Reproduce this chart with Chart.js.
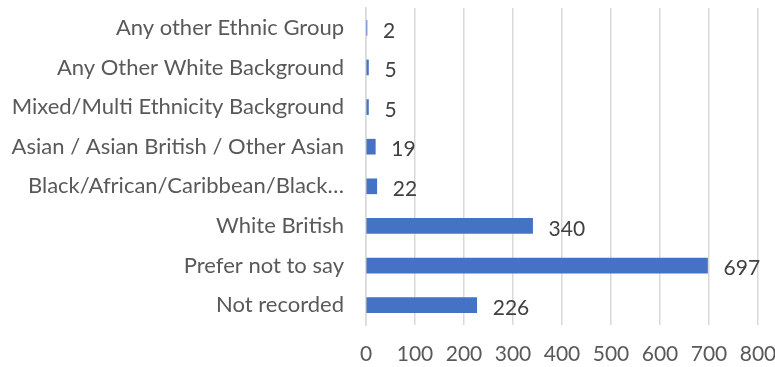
<!DOCTYPE html>
<html>
<head>
<meta charset="utf-8">
<script src="https://cdn.jsdelivr.net/npm/chart.js@4.4.1/dist/chart.umd.min.js"></script>
<style>
  html, body { margin: 0; padding: 0; background: #fff; overflow: hidden; }
  canvas { display: block; }
</style>
</head>
<body>
<canvas id="myChart" width="775" height="367"></canvas>
<script>
// 데이터 (위에서 아래 순서)
const categories = [
    'Any other Ethnic Group',
    'Any Other White Background',
    'Mixed/Multi Ethnicity Background',
    'Asian / Asian British / Other Asian',
    'Black/African/Caribbean/Black…',
    'White British',
    'Prefer not to say',
    'Not recorded'
];
const counts = [2, 5, 5, 19, 22, 340, 697, 226];
const xTicks = [0, 100, 200, 300, 400, 500, 600, 700, 800];

const FONT = 'Lato, "Open Sans", sans-serif';
const FSIZE = 22;

// 막대 끝에 값 표시
const valueLabels = {
    id: 'valueLabels',
    afterDatasetsDraw(chart) {
        const { ctx } = chart;
        const meta = chart.getDatasetMeta(0);
        ctx.save();
        ctx.font = '21px ' + FONT;
        ctx.fillStyle = '#404040';
        ctx.textBaseline = 'middle';
        ctx.textAlign = 'left';
        meta.data.forEach((bar, i) => {
            ctx.fillText(String(counts[i]), bar.x + 16, bar.y + 3);
        });
        ctx.restore();
    }
};

const ctx = document.getElementById('myChart').getContext('2d');
new Chart(ctx, {
    type: 'bar',
    data: {
        labels: categories,
        datasets: [{
            data: counts,
            backgroundColor: '#4472C4',
            borderWidth: 0,
            barThickness: 15
        }]
    },
    options: {
        indexAxis: 'y',
        responsive: false,
        animation: false,
        devicePixelRatio: 1,
        layout: { padding: { top: 8, right: 17, bottom: 0, left: 0 } },
        plugins: {
            legend: { display: false },
            tooltip: { enabled: false }
        },
        scales: {
            x: {
                min: 0,
                max: 800,
                afterBuildTicks(axis) {
                    axis.ticks = xTicks.map(v => ({ value: v }));
                },
                afterFit(axis) {
                    axis.height = 42;
                    axis.paddingLeft = 0;
                    axis.paddingRight = 0;
                },
                grid: { color: '#d9d9d9', lineWidth: 1.5, drawTicks: false },
                border: { display: false },
                ticks: {
                    padding: 17,
                    color: '#595959',
                    font: { family: FONT, size: 21 }
                }
            },
            y: {
                grid: { display: false, drawTicks: false },
                border: { color: '#d9d9d9', width: 1.5 },
                afterFit(axis) {
                    axis.width = 366;
                    axis.paddingTop = 0;
                    axis.paddingBottom = 0;
                },
                ticks: {
                    padding: 22,
                    color: '#595959',
                    font: { family: FONT, size: FSIZE }
                }
            }
        }
    },
    plugins: [valueLabels]
});
</script>
</body>
</html>
